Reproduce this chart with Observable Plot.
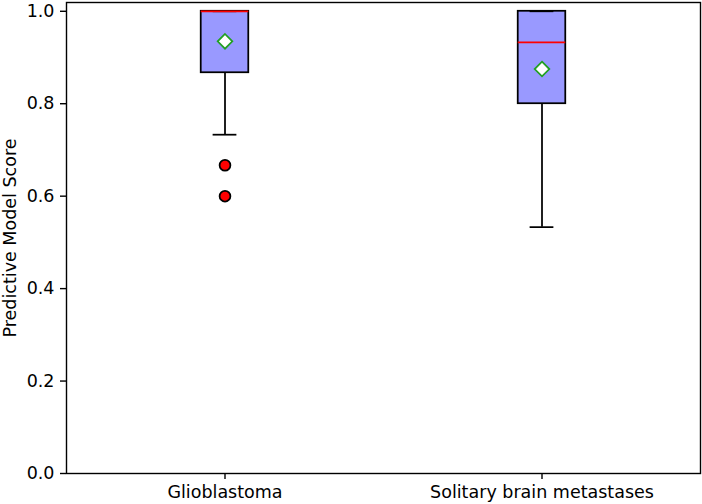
<!DOCTYPE html>
<html>
<head>
<meta charset="utf-8">
<script src="https://cdn.jsdelivr.net/npm/d3@7"></script>
<script src="https://cdn.jsdelivr.net/npm/@observablehq/plot@0.6"></script>
<style>
  html, body { margin: 0; padding: 0; background: white; }
  #chart { width: 702px; height: 504px; }
</style>
</head>
<body>
<div id="chart"></div>
<script>
const categories = ["Glioblastoma", "Solitary brain metastases"];
const positions = [1, 2];
const q1 = [0.867, 0.800];
const medians = [1.0, 0.933];
const q3 = [1.0, 1.0];
const whiskerLow = [0.733, 0.533];
const whiskerHigh = [1.0, 1.0];
const means = [0.935, 0.875];
const outlierCategory = [0, 0];
const outlierValues = [0.667, 0.600];
const yTicks = [0, 0.2, 0.4, 0.6, 0.8, 1.0];

const boxHalf = 0.075;
const capHalf = 0.0375;

const boxes = categories.map((c, i) => ({
  pos: positions[i], q1: q1[i], med: medians[i], q3: q3[i],
  lo: whiskerLow[i], hi: whiskerHigh[i], mean: means[i]
}));
const outliers = outlierValues.map((v, i) => ({pos: positions[outlierCategory[i]], v}));

const chart = Plot.plot({
  width: 702,
  height: 504,
  marginLeft: 66,
  marginRight: 2,
  marginTop: 2,
  marginBottom: 31,
  style: {fontFamily: "DejaVu Sans", fontSize: "17.5px", color: "black", background: "white"},
  x: {domain: [0.5, 2.5]},
  y: {domain: [0, 1.019]},
  marks: [
    Plot.rect(boxes, {x1: d => d.pos - boxHalf, x2: d => d.pos + boxHalf, y1: "q1", y2: "q3",
      fill: "#9999ff", stroke: "black", strokeWidth: 1.75}),
    Plot.ruleX(boxes, {x: "pos", y1: "q1", y2: "lo", stroke: "black", strokeWidth: 1.75}),
    Plot.ruleX(boxes, {x: "pos", y1: "q3", y2: "hi", stroke: "black", strokeWidth: 1.75}),
    Plot.ruleY(boxes, {y: "lo", x1: d => d.pos - capHalf, x2: d => d.pos + capHalf, stroke: "black", strokeWidth: 1.75}),
    Plot.ruleY(boxes, {y: "hi", x1: d => d.pos - capHalf, x2: d => d.pos + capHalf, stroke: "black", strokeWidth: 1.75}),
    Plot.ruleY(boxes, {y: "med", x1: d => d.pos - boxHalf, x2: d => d.pos + boxHalf, stroke: "#ff0000", strokeWidth: 1.75}),
    Plot.dot(boxes, {x: "pos", y: "mean", symbol: "diamond2", r: 6.6, fill: "white", stroke: "#22a022", strokeWidth: 1.75}),
    Plot.dot(outliers, {x: "pos", y: "v", r: 5.4, fill: "#ff0000", stroke: "black", strokeWidth: 1.75}),
    Plot.frame({stroke: "black", strokeWidth: 1.4}),
    Plot.axisY({ticks: yTicks, tickFormat: d3.format(".1f"), tickSize: 6, tickPadding: 6, strokeWidth: 1.4,
      fontSize: 17.5, label: "Predictive Model Score", labelAnchor: "center", labelArrow: "none", labelOffset: 63, fill: "black"}),
    Plot.axisX({ticks: positions, tickFormat: d => categories[d - 1], tickSize: 6, tickPadding: 6, strokeWidth: 1.4,
      fontSize: 17.5, label: null, fill: "black"})
  ]
});
document.getElementById("chart").appendChild(chart);
</script>
</body>
</html>
